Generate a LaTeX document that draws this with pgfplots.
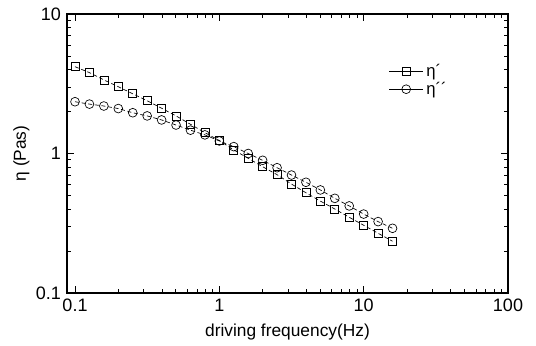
\documentclass[border=0pt]{standalone}
\usepackage{fontspec}
\setmainfont{Liberation Sans}
\usepackage{pgfplots}
\pgfplotsset{compat=1.18}
\begin{document}
\fontsize{13}{15}\selectfont
\begin{tikzpicture}
\begin{axis}[
  scale only axis, width=330.75pt, height=209.25pt,
  xmode=log, ymode=log,
  xmin=0.088, xmax=100, ymin=0.1, ymax=10,
  xtick={0.1,1,10,100}, xticklabels={0.1,1,10,100},
  ytick={0.1,1,10}, yticklabels={0.1,1,10},
  /pgf/number format/assume math mode=true,
  tick align=inside, major tick length=5pt, minor tick length=3pt,
  tick style={black, line width=0.6pt},
  axis line style={line width=0.8pt},
  tick label style={font=\fontsize{13.5}{15}\selectfont},
  label style={font=\fontsize{13}{15}\selectfont},
  xlabel={driving frequency(Hz)}, ylabel={η (Pas)},
  ylabel style={yshift=-4pt},
  legend style={draw=none, fill=none, at={(0.72,0.84)}, anchor=north west, font=\fontsize{12.5}{15}\selectfont, row sep=-2pt},
  legend image code/.code={\draw[mark repeat=2, mark phase=2, #1, solid] plot coordinates {(0cm,0cm) (0.45cm,0cm) (0.9cm,0cm)};},
  legend cell align=left,
]
\addplot[black, line width=0.5pt, densely dashed, mark=square, mark size=3pt, mark options={solid, fill=white}] coordinates {
(0.1,4.19) (0.1259,3.80) (0.1585,3.37) (0.1995,3.01) (0.2512,2.68) (0.3162,2.39) (0.3981,2.11) (0.5012,1.86) (0.631,1.62) (0.7943,1.41)
(1,1.24) (1.259,1.06) (1.585,0.924) (1.995,0.804) (2.512,0.705) (3.162,0.604) (3.981,0.523) (5.012,0.456) (6.31,0.400) (7.943,0.349)
(10,0.306) (12.59,0.268) (15.85,0.235)
};
\addlegendentry{η´}
\addplot[black, line width=0.5pt, densely dashed, mark=o, mark size=3.3pt, mark options={solid, fill=white}] coordinates {
(0.1,2.35) (0.1259,2.26) (0.1585,2.19) (0.1995,2.10) (0.2512,1.96) (0.3162,1.86) (0.3981,1.74) (0.5012,1.60) (0.631,1.47) (0.7943,1.36)
(1,1.23) (1.259,1.12) (1.585,1.00) (1.995,0.894) (2.512,0.791) (3.162,0.701) (3.981,0.622) (5.012,0.548) (6.31,0.477) (7.943,0.421)
(10,0.368) (12.59,0.325) (15.85,0.291)
};
\addlegendentry{η´´}
\end{axis}
\path (-50.25pt,-38.25pt) rectangle (351.75pt,219.75pt);
\end{tikzpicture}
\end{document}
